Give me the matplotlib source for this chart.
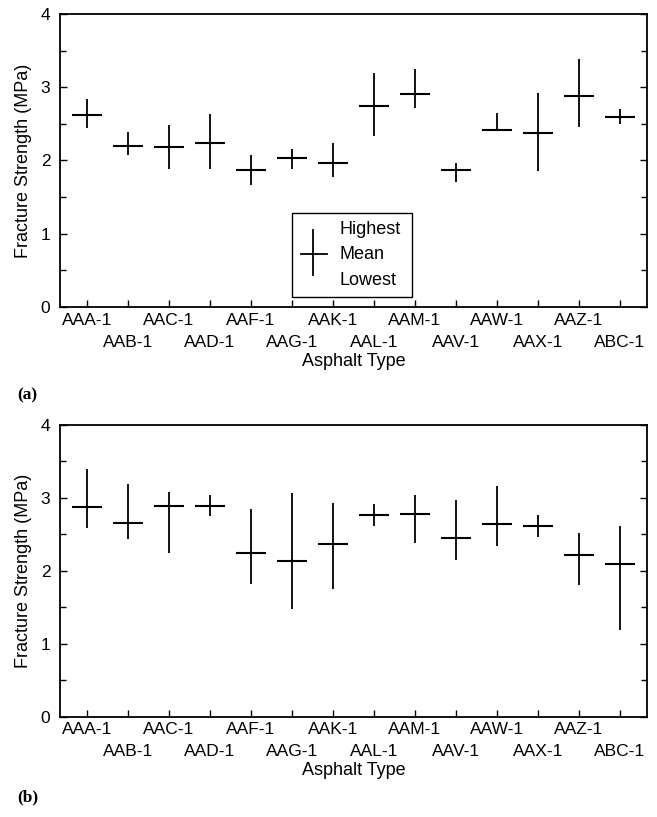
import numpy as np
import matplotlib.pyplot as plt
from matplotlib.patches import Rectangle
from matplotlib.lines import Line2D

plt.rcParams['font.family'] = ['Liberation Sans', 'DejaVu Sans']

# Asphalt types (x categories)
asphalts = ['AAA-1', 'AAB-1', 'AAC-1', 'AAD-1', 'AAF-1', 'AAG-1', 'AAK-1',
            'AAL-1', 'AAM-1', 'AAV-1', 'AAW-1', 'AAX-1', 'AAZ-1', 'ABC-1']

# Panel (a): fracture strength (MPa)
mean_a = [2.62, 2.20, 2.18, 2.24, 1.87, 2.03, 1.96, 2.75, 2.91, 1.87, 2.41, 2.37, 2.88, 2.60]
high_a = [2.84, 2.39, 2.49, 2.63, 2.07, 2.16, 2.24, 3.19, 3.25, 1.96, 2.65, 2.92, 3.38, 2.70]
low_a = [2.44, 2.07, 1.88, 1.89, 1.67, 1.89, 1.77, 2.33, 2.71, 1.70, 2.40, 1.85, 2.46, 2.50]

# Panel (b): fracture strength (MPa)
mean_b = [2.87, 2.65, 2.89, 2.88, 2.24, 2.13, 2.36, 2.76, 2.78, 2.45, 2.64, 2.61, 2.21, 2.09]
high_b = [3.39, 3.18, 3.08, 3.04, 2.84, 3.06, 2.92, 2.91, 3.04, 2.97, 3.16, 2.76, 2.52, 2.61]
low_b = [2.58, 2.43, 2.24, 2.75, 1.82, 1.47, 1.74, 2.61, 2.38, 2.15, 2.34, 2.46, 1.80, 1.19]

fig = plt.figure(figsize=(6.57, 8.17), dpi=100)
ax_a = fig.add_axes([0.0913, 0.6242, 0.8935, 0.3587])
ax_b = fig.add_axes([0.0913, 0.1230, 0.8935, 0.3574])

x = np.arange(1, len(asphalts) + 1)


def draw_panel(ax, mean, high, low):
    ax.vlines(x, low, high, color='black', lw=1.3)
    ax.hlines(mean, x - 0.36, x + 0.36, color='black', lw=1.5)
    ax.set_xlim(0.34, 14.66)
    ax.set_ylim(0, 4)
    # staggered labels: odd positions on the first row (major), even on the second (minor)
    ax.set_xticks(x[0::2])
    ax.set_xticklabels(asphalts[0::2])
    ax.set_xticks(x[1::2], minor=True)
    ax.set_xticklabels(asphalts[1::2], minor=True)
    ax.set_yticks([0, 1, 2, 3, 4])
    ax.set_yticks(np.arange(0.5, 4, 1.0), minor=True)
    ax.tick_params(axis='both', which='both', direction='in', right=True,
                   labelsize=12.5, width=1.0)
    ax.tick_params(axis='x', which='major', length=5, pad=4)
    ax.tick_params(axis='x', which='minor', length=5, pad=20)
    ax.tick_params(axis='y', which='major', length=5, pad=7)
    ax.tick_params(axis='y', which='minor', length=4)
    for sp in ax.spines.values():
        sp.set_linewidth(1.3)
    ax.set_xlabel('Asphalt Type', fontsize=13, labelpad=2)
    ax.set_ylabel('Fracture Strength (MPa)', fontsize=13, labelpad=6)


draw_panel(ax_a, mean_a, high_a, low_a)
draw_panel(ax_b, mean_b, high_b, low_b)

fig.text(0.026, 1 - 395 / 817, '(a)', fontsize=12.5, fontweight='bold',
         family='Liberation Serif', ha='left', va='center')
fig.text(0.026, 1 - 797 / 817, '(b)', fontsize=12.5, fontweight='bold',
         family='Liberation Serif', ha='left', va='center')

# legend box for panel (a)
ax_a.add_patch(Rectangle((0.395, 0.034), 0.2045, 0.2867, transform=ax_a.transAxes,
                         fill=False, ec='black', lw=1.0))
ax_a.add_line(Line2D([0.431, 0.431], [0.109, 0.263], transform=ax_a.transAxes,
                     color='black', lw=1.3))
ax_a.add_line(Line2D([0.4106, 0.455], [0.181, 0.181], transform=ax_a.transAxes,
                     color='black', lw=1.3))
for ty, txt in zip([0.263, 0.178, 0.092], ['Highest', 'Mean', 'Lowest']):
    ax_a.text(0.477, ty, txt, transform=ax_a.transAxes, fontsize=13,
              ha='left', va='center')

fig.savefig('out.png', dpi=100)
